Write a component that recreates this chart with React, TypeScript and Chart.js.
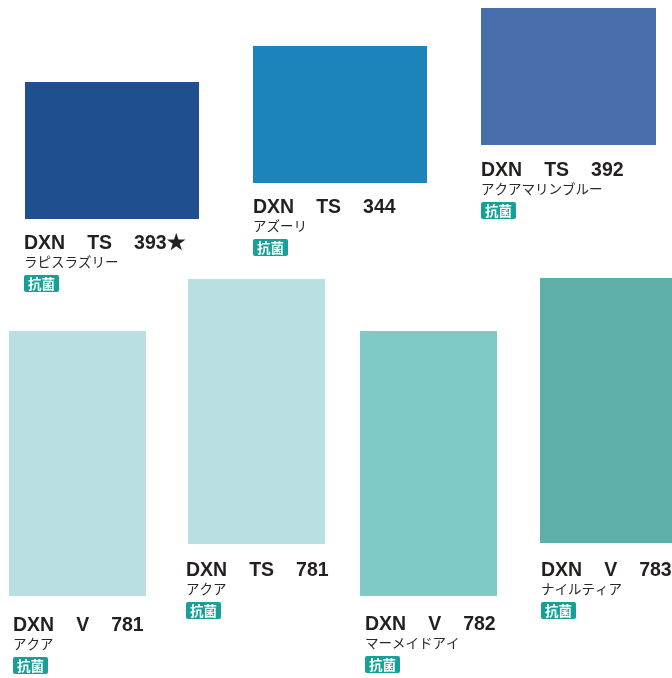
import React, { useEffect, useRef } from "react";
import { Chart, registerables } from "chart.js";

Chart.register(...registerables);

// Swatch data (layout units of the sheet, 1 unit = 1 px)
const codeParts: string[][] = [
  ["DXN", "TS", "393★"],
  ["DXN", "TS", "344"],
  ["DXN", "TS", "392"],
  ["DXN", "V", "781"],
  ["DXN", "TS", "781"],
  ["DXN", "V", "782"],
  ["DXN", "V", "783"],
];
const colorNames = ["ラピスラズリー", "アズーリ", "アクアマリンブルー", "アクア", "アクア", "マーメイドアイ", "ナイルティア"];
const antibacterial = [true, true, true, true, true, true, true];
const swatchLeft = [25, 253, 481, 9, 188, 360, 540];
const swatchRight = [199, 427, 656, 146, 325, 497, 680];
const swatchTop = [82, 46, 8, 331, 279, 331, 278];
const swatchBottom = [219, 183, 145, 596, 544, 596, 543];
const swatchColors = ["#1f4f8e", "#1c84bb", "#486fab", "#b9dfe3", "#b9dfe3", "#7fc9c6", "#5eaeaa"];
const labelX = [24, 253, 481, 13, 186, 365, 541];
const labelBaseline = [249, 213, 176, 631, 576, 630, 576];

const W = 672;
const H = 678;

export default function App() {
  const ref = useRef<HTMLCanvasElement | null>(null);
  useEffect(() => {
    document.body.style.margin = "0";
    const canvas = ref.current!;
    const datasets = swatchColors.map((c, i) => ({
      label: codeParts[i].join(" "),
      data: [{ x: (swatchLeft[i] + swatchRight[i]) / 2, y: [swatchTop[i], swatchBottom[i]] }],
      backgroundColor: c,
      borderWidth: 0,
      grouped: false,
      barThickness: swatchRight[i] - swatchLeft[i],
      inflateAmount: 0,
    }));

    const textPlugin = {
      id: "swatchText",
      afterDatasetsDraw(chart: any) {
        const ctx = chart.ctx as CanvasRenderingContext2D;
        const xs = chart.scales.x;
        const ys = chart.scales.y;
        ctx.save();
        for (let i = 0; i < codeParts.length; i++) {
          let x = xs.getPixelForValue(labelX[i]);
          const base = ys.getPixelForValue(labelBaseline[i]);
          ctx.fillStyle = "#231f1f";
          ctx.textBaseline = "alphabetic";
          ctx.textAlign = "left";
          ctx.font = 'bold 19.5px "Liberation Sans", Arial, "Noto Sans CJK JP", sans-serif';
          codeParts[i].forEach((p) => {
            ctx.fillText(p, x, base);
            x += ctx.measureText(p).width + 22;
          });
          const x0 = xs.getPixelForValue(labelX[i]);
          ctx.font = '13.5px "Noto Sans CJK JP", sans-serif';
          ctx.textBaseline = "middle";
          ctx.fillStyle = "#2a2626";
          ctx.fillText(colorNames[i], x0, base + 12.5);
          if (antibacterial[i]) {
            const bt = base + 26;
            ctx.fillStyle = "#17a097";
            ctx.beginPath();
            (ctx as any).roundRect(x0, bt, 35, 17, 2);
            ctx.fill();
            ctx.fillStyle = "#ffffff";
            ctx.font = 'bold 13.5px "Noto Sans CJK JP", sans-serif';
            ctx.textAlign = "center";
            ctx.fillText("抗菌", x0 + 17.5, bt + 8.5);
            ctx.textAlign = "left";
          }
        }
        ctx.restore();
      },
    };

    const chart = new Chart(canvas, {
      type: "bar",
      data: { datasets: datasets as any },
      options: {
        animation: false,
        responsive: false,
        maintainAspectRatio: false,
        layout: { padding: 0 },
        plugins: { legend: { display: false }, tooltip: { enabled: false }, title: { display: false } },
        scales: {
          x: { type: "linear", min: 0, max: W, offset: false, display: false },
          y: { type: "linear", min: 0, max: H, reverse: true, offset: false, display: false },
        },
      },
      plugins: [textPlugin],
    });
    return () => chart.destroy();
  }, []);
  return (
    <div style={{ width: W, height: H, background: "#ffffff" }}>
      <canvas ref={ref} width={W} height={H} style={{ display: "block" }} />
    </div>
  );
}
